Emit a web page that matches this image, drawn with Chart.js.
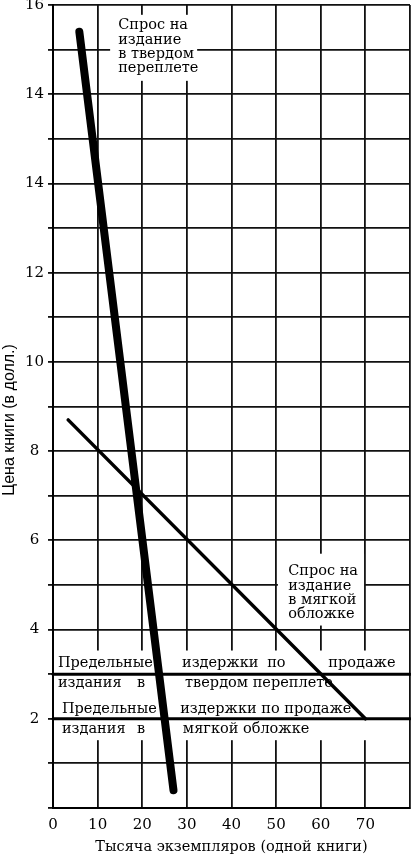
<!DOCTYPE html>
<html><head><meta charset="utf-8">
<style>html,body{margin:0;padding:0;background:#fff;}#wrap{width:411px;height:856px;position:relative}</style>
<script src="https://cdn.jsdelivr.net/npm/chart.js@4.4.0/dist/chart.umd.min.js"></script>
</head><body><div id="wrap"><canvas id="c"></canvas></div>
<script>
const xTickValues = [0, 10, 20, 30, 40, 50, 60, 70];
const xTickLabels = ['0', '10', '20', '30', '40', '50', '60', '70'];
const yTickValues = [2, 4, 6, 8, 10, 12, 14, 16, 18];
const yTickLabels = ['2', '4', '6', '8', '10', '12', '14', '14', '16'];

const hardDemandX = [5.9, 27.0];
const hardDemandY = [17.4, 0.4];
const softDemandX = [3.4, 70];
const softDemandY = [8.7, 2];
const hardCostX = [0, 80];
const hardCostY = [3, 3];
const softCostX = [0, 80];
const softCostY = [2, 2];

const xTitle = 'Тысяча экземпляров (одной книги)';
const yTitle = 'Цена книги (в долл.)';
const hardDemandLabel = ['Спрос на', 'издание', 'в твердом', 'переплете'];
const softDemandLabel = ['Спрос на', 'издание', 'в мягкой', 'обложке'];
const hardCostLabel = [['Предельные', 'издержки', 'по', 'продаже'], ['издания', 'в', 'твердом переплете']];
const softCostLabel = [['Предельные', 'издержки по продаже'], ['издания', 'в', 'мягкой обложке']];

const pts = (xs, ys) => xs.map((x, i) => ({x: x, y: ys[i]}));
const SERIF = '"DejaVu Serif", "Liberation Serif", serif';

const notesPlugin = {
  id: 'notes',
  beforeDatasetsDraw(chart) {
    const {ctx, scales: {x, y}} = chart;
    const box = (x0, x1, y0, y1) => {
      ctx.fillStyle = '#fff';
      ctx.fillRect(x.getPixelForValue(x0), y.getPixelForValue(y0),
        x.getPixelForValue(x1) - x.getPixelForValue(x0), y.getPixelForValue(y1) - y.getPixelForValue(y0));
    };
    const word = (t, xv, yv) => ctx.fillText(t, x.getPixelForValue(xv), y.getPixelForValue(yv));
    ctx.save();
    box(12.8, 32.3, 17.78, 16.30);
    box(50.4, 69.7, 5.70, 4.09);
    box(0.5, 77.8, 3.53, 1.52);
    ctx.fillStyle = '#000';
    ctx.font = '14.5px ' + SERIF;
    ctx.textAlign = 'left';
    ctx.textBaseline = 'middle';
    const topY = [17.54, 17.22, 16.90, 16.59];
    hardDemandLabel.forEach((t, i) => word(t, 14.6, topY[i]));
    const softY = [5.30, 4.96, 4.66, 4.35];
    softDemandLabel.forEach((t, i) => word(t, 52.7, softY[i]));
    const r1x = [1.1, 28.9, 48.0, 61.7], r2x = [1.1, 18.8, 29.6];
    hardCostLabel[0].forEach((t, i) => word(t, r1x[i], 3.25));
    hardCostLabel[1].forEach((t, i) => word(t, r2x[i], 2.80));
    const r3x = [2.0, 28.5], r4x = [2.0, 18.8, 29.1];
    softCostLabel[0].forEach((t, i) => word(t, r3x[i], 2.22));
    softCostLabel[1].forEach((t, i) => word(t, r4x[i], 1.77));
    ctx.restore();
  },
  afterDraw(chart) {
    const {ctx, scales: {y}} = chart;
    ctx.save();
    ctx.fillStyle = '#000';
    ctx.font = '16px "Liberation Sans", sans-serif';
    ctx.textAlign = 'center';
    ctx.textBaseline = 'middle';
    ctx.translate(10, y.getPixelForValue(8.7));
    ctx.rotate(-Math.PI / 2);
    ctx.fillText(yTitle, 0, 0);
    ctx.restore();
  }
};

const lineDs = (data, w) => ({data: data, showLine: true, borderColor: '#000', backgroundColor: '#000',
  borderWidth: w, pointRadius: 0, borderCapStyle: 'round', clip: false});

new Chart(document.getElementById('c'), {
  type: 'scatter',
  data: {datasets: [
    lineDs(pts(hardDemandX, hardDemandY), 8),
    lineDs(pts(softDemandX, softDemandY), 3.5),
    lineDs(pts(hardCostX, hardCostY), 3),
    lineDs(pts(softCostX, softCostY), 3)
  ]},
  options: {
    responsive: true, maintainAspectRatio: false, animation: false,
    layout: {padding: {top: 5, right: 1, left: 0, bottom: 0}},
    plugins: {legend: {display: false}, tooltip: {enabled: false}},
    scales: {
      x: {
        type: 'linear', min: 0, max: 80,
        afterFit(s) { s.height = 48; s.paddingLeft = 0; s.paddingRight = 0; },
        border: {display: true, color: '#000', width: 2},
        grid: {color: '#111', lineWidth: 1.8, drawTicks: false},
        ticks: {stepSize: 10, autoSkip: false, maxRotation: 0, padding: 8, color: '#000',
          font: {family: SERIF, size: 15},
          callback: (v) => { const i = xTickValues.indexOf(v); return i >= 0 ? xTickLabels[i] : ''; }},
        title: {display: true, text: xTitle, color: '#000', font: {family: SERIF, size: 14.5}, padding: {top: 0, bottom: 0}}
      },
      y: {
        type: 'linear', min: 0, max: 18,
        afterFit(s) { s.width = 53; s.paddingTop = 0; s.paddingBottom = 0; },
        border: {display: true, color: '#000', width: 2},
        grid: {color: '#111', lineWidth: 1.8, tickLength: 5},
        ticks: {stepSize: 1, autoSkip: false, padding: 4, crossAlign: 'center', color: '#000',
          font: {family: SERIF, size: 15},
          callback: (v) => { const i = yTickValues.indexOf(v); return i >= 0 ? yTickLabels[i] : ''; }},
        title: {display: false}
      }
    }
  },
  plugins: [notesPlugin]
});
</script></body></html>
